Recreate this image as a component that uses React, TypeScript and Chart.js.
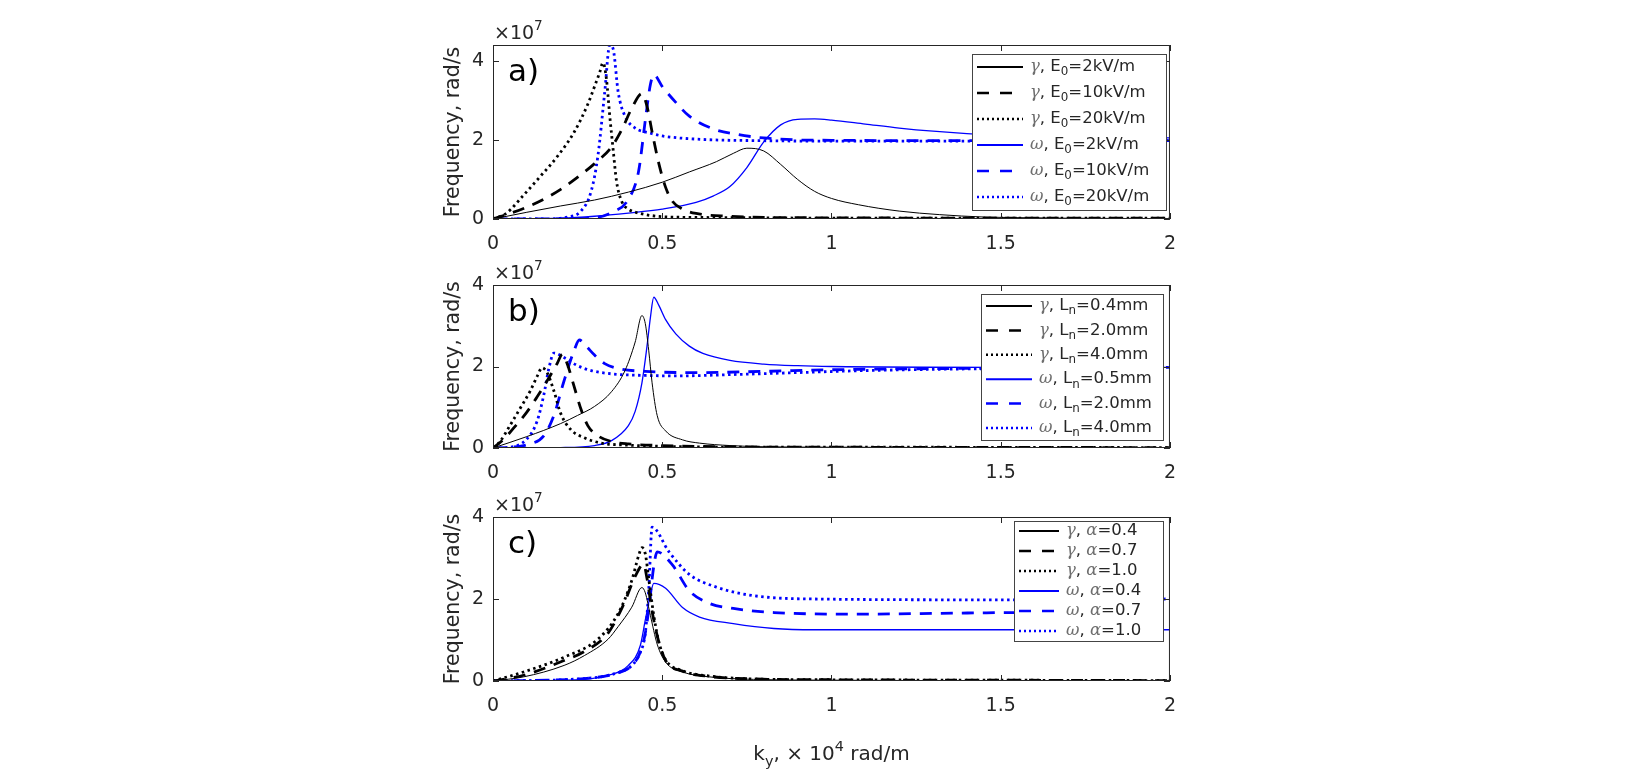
import { useEffect, useRef } from "react";
import { Chart, registerables } from "chart.js";

Chart.register(...registerables);

const SANS = '"DejaVu Sans", sans-serif';
const SERIF = '"DejaVu Serif", serif';
const INK = "#262626";

// axis ticks: k_y in 1e4 rad/m, frequency in 1e7 rad/s
const xTickValues = [0, 0.5, 1, 1.5, 2];
const yTickValues = [0, 2, 4];

// ---- a) field strength E0 ----
const labelsA = ["γ, E_0=2kV/m", "γ, E_0=10kV/m", "γ, E_0=20kV/m", "ω, E_0=2kV/m", "ω, E_0=10kV/m", "ω, E_0=20kV/m"];
const kGammaA2 = [0, 0.1, 0.2, 0.3, 0.4, 0.5, 0.58, 0.66, 0.71, 0.75, 0.8, 0.85, 0.9, 0.95, 1.0, 1.08, 1.2, 1.32, 1.45, 1.6, 1.7, 2.0];
const fGammaA2 = [0, 0.17, 0.33, 0.48, 0.68, 0.93, 1.19, 1.45, 1.66, 1.79, 1.72, 1.38, 1.0, 0.7, 0.52, 0.36, 0.2, 0.11, 0.05, 0.03, 0.02, 0.01];
const kGammaA10 = [0, 0.05, 0.1, 0.15, 0.2, 0.26, 0.3, 0.35, 0.38, 0.41, 0.44, 0.455, 0.47, 0.49, 0.51, 0.53, 0.56, 0.6, 0.7, 0.8, 1.0, 1.5, 2.0];
const fGammaA10 = [0, 0.14, 0.3, 0.5, 0.75, 1.12, 1.4, 1.82, 2.25, 2.8, 3.17, 2.85, 2.2, 1.4, 0.8, 0.45, 0.25, 0.14, 0.07, 0.04, 0.03, 0.02, 0.02];
const kGammaA20 = [0, 0.04, 0.09, 0.14, 0.19, 0.24, 0.28, 0.3, 0.315, 0.325, 0.335, 0.345, 0.355, 0.365, 0.38, 0.4, 0.43, 0.5, 0.6, 0.8, 1.0, 1.5, 2.0];
const fGammaA20 = [0, 0.15, 0.6, 1.08, 1.58, 2.2, 2.9, 3.35, 3.7, 3.95, 3.55, 2.6, 1.75, 0.95, 0.45, 0.25, 0.15, 0.06, 0.04, 0.03, 0.02, 0.02, 0.02];
const kOmegaA2 = [0, 0.2, 0.3, 0.4, 0.5, 0.6, 0.65, 0.7, 0.75, 0.8, 0.85, 0.9, 0.95, 1.0, 1.1, 1.2, 1.3, 1.4, 1.5, 1.7, 2.0];
const fOmegaA2 = [0, 0.02, 0.07, 0.15, 0.25, 0.42, 0.58, 0.82, 1.3, 1.95, 2.38, 2.52, 2.53, 2.5, 2.4, 2.3, 2.22, 2.16, 2.12, 2.08, 2.05];
const kOmegaA10 = [0, 0.2, 0.3, 0.35, 0.4, 0.43, 0.45, 0.465, 0.475, 0.5, 0.54, 0.58, 0.65, 0.72, 0.8, 0.9, 1.0, 1.5, 2.0];
const fOmegaA10 = [0, 0.0, 0.03, 0.16, 0.5, 1.2, 2.5, 3.4, 3.65, 3.35, 2.95, 2.6, 2.28, 2.14, 2.05, 2.0, 1.99, 1.98, 1.98];
const kOmegaA20 = [0, 0.15, 0.22, 0.26, 0.29, 0.31, 0.33, 0.345, 0.355, 0.37, 0.39, 0.42, 0.46, 0.5, 0.6, 0.8, 1.0, 1.5, 2.0];
const fOmegaA20 = [0, 0.0, 0.05, 0.2, 0.7, 1.6, 3.2, 4.4, 4.3, 3.2, 2.6, 2.3, 2.18, 2.1, 2.02, 1.98, 1.97, 1.97, 1.98];

// ---- b) density scale length Ln ----
const labelsB = ["γ, L_n=0.4mm", "γ, L_n=2.0mm", "γ, L_n=4.0mm", "ω, L_n=0.5mm", "ω, L_n=2.0mm", "ω, L_n=4.0mm"];
const kGammaB04 = [0, 0.1, 0.2, 0.25, 0.3, 0.35, 0.39, 0.42, 0.44, 0.45, 0.46, 0.47, 0.485, 0.51, 0.56, 0.61, 0.7, 0.8, 1.0, 1.5, 2.0];
const fGammaB04 = [0, 0.28, 0.6, 0.8, 1.02, 1.38, 1.9, 2.6, 3.25, 3.05, 2.4, 1.6, 0.8, 0.42, 0.2, 0.12, 0.06, 0.03, 0.02, 0.01, 0.01];
const kGammaB20 = [0, 0.03, 0.06, 0.1, 0.13, 0.16, 0.19, 0.205, 0.22, 0.24, 0.26, 0.28, 0.31, 0.35, 0.4, 0.5, 0.7, 1.0, 2.0];
const fGammaB20 = [0, 0.2, 0.48, 0.88, 1.25, 1.65, 2.08, 2.3, 2.05, 1.5, 0.95, 0.55, 0.3, 0.16, 0.1, 0.06, 0.03, 0.02, 0.01];
const kGammaB40 = [0, 0.02, 0.05, 0.08, 0.11, 0.13, 0.145, 0.16, 0.18, 0.2, 0.23, 0.27, 0.32, 0.4, 0.5, 0.7, 1.0, 2.0];
const fGammaB40 = [0, 0.15, 0.55, 0.97, 1.4, 1.75, 1.97, 1.85, 1.4, 0.85, 0.45, 0.25, 0.12, 0.07, 0.04, 0.02, 0.02, 0.01];
const kOmegaB05 = [0, 0.2, 0.3, 0.35, 0.4, 0.42, 0.44, 0.455, 0.465, 0.475, 0.49, 0.51, 0.54, 0.58, 0.62, 0.7, 0.8, 0.9, 1.0, 1.5, 2.0];
const fOmegaB05 = [0, 0.01, 0.06, 0.18, 0.55, 0.9, 1.6, 2.5, 3.2, 3.7, 3.5, 3.15, 2.8, 2.5, 2.32, 2.15, 2.06, 2.02, 2.0, 1.98, 1.98];
const kOmegaB20 = [0, 0.05, 0.1, 0.15, 0.18, 0.21, 0.24, 0.255, 0.275, 0.3, 0.33, 0.37, 0.45, 0.6, 0.8, 1.0, 1.5, 2.0];
const fOmegaB20 = [0, 0.02, 0.08, 0.3, 0.8, 1.65, 2.4, 2.65, 2.5, 2.28, 2.07, 1.95, 1.88, 1.85, 1.88, 1.92, 1.96, 1.98];
const kOmegaB40 = [0, 0.05, 0.1, 0.13, 0.15, 0.165, 0.18, 0.21, 0.25, 0.29, 0.35, 0.45, 0.55, 0.7, 0.9, 1.1, 1.5, 2.0];
const fOmegaB40 = [0, 0.02, 0.22, 0.65, 1.3, 1.95, 2.33, 2.22, 2.02, 1.9, 1.82, 1.78, 1.77, 1.8, 1.85, 1.9, 1.95, 1.98];

// ---- c) parameter alpha ----
const labelsC = ["γ, α=0.4", "γ, α=0.7", "γ, α=1.0", "ω, α=0.4", "ω, α=0.7", "ω, α=1.0"];
const kGammaC04 = [0, 0.09, 0.21, 0.27, 0.34, 0.37, 0.41, 0.44, 0.45, 0.465, 0.485, 0.51, 0.56, 0.64, 0.77, 1.0, 1.5, 2.0];
const fGammaC04 = [0, 0.1, 0.38, 0.62, 1.02, 1.33, 1.8, 2.28, 2.15, 1.6, 0.9, 0.46, 0.22, 0.1, 0.04, 0.02, 0.01, 0.01];
const kGammaC07 = [0, 0.09, 0.21, 0.27, 0.34, 0.385, 0.42, 0.445, 0.455, 0.47, 0.49, 0.51, 0.56, 0.64, 0.77, 1.0, 1.5, 2.0];
const fGammaC07 = [0, 0.14, 0.5, 0.72, 1.17, 1.85, 2.55, 2.85, 2.5, 1.7, 0.95, 0.5, 0.24, 0.11, 0.05, 0.03, 0.02, 0.01];
const kGammaC10 = [0, 0.09, 0.21, 0.31, 0.37, 0.41, 0.43, 0.44, 0.45, 0.46, 0.475, 0.49, 0.51, 0.56, 0.64, 0.77, 1.0, 1.5, 2.0];
const fGammaC10 = [0, 0.22, 0.58, 1.02, 1.65, 2.45, 3.05, 3.25, 3.1, 2.5, 1.6, 0.95, 0.52, 0.25, 0.12, 0.05, 0.03, 0.02, 0.01];
const kOmegaC04 = [0, 0.21, 0.34, 0.4, 0.435, 0.45, 0.465, 0.475, 0.51, 0.56, 0.61, 0.71, 0.83, 0.95, 1.5, 2.0];
const fOmegaC04 = [0, 0.02, 0.14, 0.38, 0.86, 1.49, 2.1, 2.38, 2.26, 1.79, 1.56, 1.4, 1.28, 1.25, 1.25, 1.25];
const kOmegaC07 = [0, 0.27, 0.36, 0.41, 0.435, 0.45, 0.46, 0.475, 0.485, 0.53, 0.58, 0.64, 0.71, 0.83, 1.08, 1.32, 1.57, 2.0];
const fOmegaC07 = [0, 0.06, 0.18, 0.38, 0.7, 1.17, 1.73, 2.8, 3.15, 2.83, 2.2, 1.89, 1.77, 1.67, 1.63, 1.65, 1.67, 1.67];
const kOmegaC10 = [0, 0.27, 0.36, 0.41, 0.435, 0.45, 0.46, 0.47, 0.52, 0.58, 0.66, 0.77, 0.95, 1.5, 2.0];
const fOmegaC10 = [0, 0.06, 0.18, 0.38, 0.7, 1.17, 2.2, 3.75, 3.15, 2.6, 2.29, 2.08, 2.0, 1.98, 2.0];

// line styles in legend order: γ solid/dash/dot (black), ω solid/dash/dot (blue)
const STYLES = [
  { color: "#000000", width: 1, dash: [] as number[], legendWidth: 2, legendDash: [] as number[] },
  { color: "#000000", width: 2.8, dash: [12, 9], legendWidth: 2.5, legendDash: [12, 11] },
  { color: "#000000", width: 2.8, dash: [2.5, 3.5], legendWidth: 2.5, legendDash: [2, 3] },
  { color: "#0000ff", width: 1.3, dash: [] as number[], legendWidth: 2, legendDash: [] as number[] },
  { color: "#0000ff", width: 2.8, dash: [12, 9], legendWidth: 2.5, legendDash: [12, 11] },
  { color: "#0000ff", width: 2.8, dash: [2.5, 3.5], legendWidth: 2.5, legendDash: [2, 3] },
];

const PLOT_LEFT = 493;
const PLOT_RIGHT = 1170;
const CANVAS_LEFT = 438;
const CANVAS_W = PLOT_RIGHT + 20 - CANVAS_LEFT;

type PanelCfg = {
  tag: string;
  top: number;
  bottom: number;
  yMax: number;
  labels: string[];
  ks: number[][];
  fs: number[][];
  legendLeft: number;
  legendRight: number;
  legendTop: number;
  legendHeight: number;
  rowFirst: number;
  rowPitch: number;
  sampleLen: number;
  xTitle: boolean;
};

// draws text with _x subscripts, ^x superscripts and italic greek letters
function drawRich(ctx: CanvasRenderingContext2D, text: string, x: number, y: number, size: number, draw = true) {
  let cx = x;
  let i = 0;
  while (i < text.length) {
    let ch = text[i];
    let mode = "normal";
    if ((ch === "_" || ch === "^") && i + 1 < text.length) {
      mode = ch === "_" ? "sub" : "sup";
      ch = text[i + 1];
      i += 2;
    } else {
      i += 1;
    }
    const greek = /[\u03b1-\u03c9]/.test(ch);
    const sz = mode === "normal" ? size : size * 0.72;
    ctx.font = `${greek ? "italic " : ""}${sz}px ${greek ? SERIF : SANS}`;
    ctx.fillStyle = greek ? "#6e6e6e" : INK;
    const dy = mode === "sub" ? size * 0.32 : mode === "sup" ? -size * 0.45 : 0;
    if (draw) ctx.fillText(ch, cx, y + dy);
    cx += ctx.measureText(ch).width;
  }
  return cx - x;
}

function Panel({ cfg }: { cfg: PanelCfg }) {
  const chartRef = useRef<HTMLCanvasElement>(null);
  const canvasTop = cfg.top - 40;
  const canvasHeight = cfg.xTitle ? 773 - canvasTop : cfg.bottom + 40 - canvasTop;
  const bottomSpace = canvasHeight - (cfg.bottom - canvasTop);

  useEffect(() => {
    if (!chartRef.current) return;

    const overlay = {
      id: "overlay",
      afterDatasetsDraw(chart: Chart) {
        const { ctx, chartArea: ca, scales } = chart;
        ctx.save();
        ctx.strokeStyle = INK;
        ctx.lineWidth = 1;
        ctx.setLineDash([]);
        ctx.strokeRect(ca.left + 0.5, ca.top + 0.5, ca.right - ca.left - 1, ca.bottom - ca.top - 1);
        ctx.beginPath();
        xTickValues.forEach((v) => {
          const px = Math.round(scales.x.getPixelForValue(v)) + 0.5;
          ctx.moveTo(px, ca.bottom);
          ctx.lineTo(px, ca.bottom - 6);
          ctx.moveTo(px, ca.top);
          ctx.lineTo(px, ca.top + 6);
        });
        yTickValues.forEach((v) => {
          const py = Math.round(scales.y.getPixelForValue(v)) + 0.5;
          ctx.moveTo(ca.left, py);
          ctx.lineTo(ca.left + 6, py);
          ctx.moveTo(ca.right, py);
          ctx.lineTo(ca.right - 6, py);
        });
        ctx.stroke();
        ctx.restore();
      },
      afterDraw(chart: Chart) {
        const { ctx, chartArea: ca } = chart;
        const ox = CANVAS_LEFT;
        const oy = canvasTop;
        ctx.save();
        ctx.textBaseline = "alphabetic";
        ctx.textAlign = "left";
        // exponent label
        drawRich(ctx, "×10^7", ca.left + 1, ca.top - 6, 19);
        // panel tag
        ctx.font = `31px ${SANS}`;
        ctx.fillStyle = "#000";
        ctx.textBaseline = "middle";
        ctx.fillText(cfg.tag, ca.left + 15, ca.top + 28);

        // legend box
        const boxLeft = cfg.legendLeft - ox;
        const boxW = cfg.legendRight - cfg.legendLeft;
        const boxTop = cfg.legendTop - oy;
        ctx.fillStyle = "#ffffff";
        ctx.fillRect(boxLeft, boxTop, boxW, cfg.legendHeight);
        ctx.strokeStyle = "#444";
        ctx.lineWidth = 1;
        ctx.strokeRect(boxLeft + 0.5, boxTop + 0.5, boxW, cfg.legendHeight);
        cfg.labels.forEach((label, i) => {
          const y = boxTop + cfg.rowFirst + i * cfg.rowPitch;
          const st = STYLES[i];
          ctx.strokeStyle = st.color;
          ctx.lineWidth = st.legendWidth;
          ctx.setLineDash(st.legendDash);
          ctx.beginPath();
          ctx.moveTo(boxLeft + 5, y);
          ctx.lineTo(boxLeft + 5 + cfg.sampleLen, y);
          ctx.stroke();
          ctx.setLineDash([]);
          ctx.textBaseline = "middle";
          drawRich(ctx, label, boxLeft + cfg.sampleLen + 12, y, 16.5);
        });

        // x axis title on the bottom panel
        if (cfg.xTitle) {
          const text = "k_y, × 10^4 rad/m";
          ctx.textBaseline = "alphabetic";
          const w = drawRich(ctx, text, 0, 0, 20, false);
          drawRich(ctx, text, (ca.left + ca.right) / 2 - w / 2, ca.bottom + 79, 20);
        }
        ctx.restore();
      },
    };

    const chart = new Chart(chartRef.current, {
      type: "line",
      data: {
        datasets: cfg.labels.map((label, i) => ({
          label,
          data: cfg.ks[i].map((k, j) => ({ x: k, y: cfg.fs[i][j] })),
          borderColor: STYLES[i].color,
          borderWidth: STYLES[i].width,
          borderDash: STYLES[i].dash,
          pointRadius: 0,
          fill: false,
          cubicInterpolationMode: "monotone" as const,
        })),
      },
      options: {
        responsive: false,
        animation: false,
        events: [],
        layout: { padding: { top: 40, right: 20, left: 0, bottom: 0 } },
        plugins: { legend: { display: false }, tooltip: { enabled: false } },
        scales: {
          x: {
            type: "linear",
            min: 0,
            max: 2,
            grid: { display: false, drawTicks: false },
            border: { display: false },
            afterBuildTicks: (s: any) => {
              s.ticks = xTickValues.map((v) => ({ value: v }));
            },
            afterFit: (s: any) => {
              s.height = bottomSpace;
            },
            ticks: {
              autoSkip: false,
              maxRotation: 0,
              padding: 14,
              color: INK,
              font: { family: SANS, size: 19 },
              callback: (v: any) => String(v),
            },
          },
          y: {
            type: "linear",
            min: 0,
            max: cfg.yMax,
            grid: { display: false, drawTicks: false },
            border: { display: false },
            afterBuildTicks: (s: any) => {
              s.ticks = yTickValues.map((v) => ({ value: v }));
            },
            afterFit: (s: any) => {
              s.width = PLOT_LEFT - CANVAS_LEFT;
            },
            title: {
              display: true,
              text: "Frequency, rad/s",
              color: INK,
              font: { family: SANS, size: 20.5 },
              padding: { top: 3, bottom: 0 },
            },
            ticks: {
              padding: 9,
              color: INK,
              font: { family: SANS, size: 19 },
              callback: (v: any) => String(v),
            },
          },
        },
      },
      plugins: [overlay],
    });

    return () => {
      chart.destroy();
    };
  }, [cfg, bottomSpace, canvasTop]);

  return (
    <canvas
      ref={chartRef}
      width={CANVAS_W}
      height={canvasHeight}
      style={{ position: "absolute", left: CANVAS_LEFT, top: canvasTop, width: CANVAS_W, height: canvasHeight }}
    />
  );
}

const panels: PanelCfg[] = [
  {
    tag: "a)",
    top: 45,
    bottom: 219,
    yMax: 4.4,
    labels: labelsA,
    ks: [kGammaA2, kGammaA10, kGammaA20, kOmegaA2, kOmegaA10, kOmegaA20],
    fs: [fGammaA2, fGammaA10, fGammaA20, fOmegaA2, fOmegaA10, fOmegaA20],
    legendLeft: 972,
    legendRight: 1166,
    legendTop: 54,
    legendHeight: 156,
    rowFirst: 13,
    rowPitch: 26,
    sampleLen: 46,
    xTitle: false,
  },
  {
    tag: "b)",
    top: 285,
    bottom: 448,
    yMax: 4,
    labels: labelsB,
    ks: [kGammaB04, kGammaB20, kGammaB40, kOmegaB05, kOmegaB20, kOmegaB40],
    fs: [fGammaB04, fGammaB20, fGammaB40, fOmegaB05, fOmegaB20, fOmegaB40],
    legendLeft: 981,
    legendRight: 1163,
    legendTop: 294,
    legendHeight: 146,
    rowFirst: 12,
    rowPitch: 24.4,
    sampleLen: 46,
    xTitle: false,
  },
  {
    tag: "c)",
    top: 517,
    bottom: 681,
    yMax: 4,
    labels: labelsC,
    ks: [kGammaC04, kGammaC07, kGammaC10, kOmegaC04, kOmegaC07, kOmegaC10],
    fs: [fGammaC04, fGammaC07, fGammaC10, fOmegaC04, fOmegaC07, fOmegaC10],
    legendLeft: 1014,
    legendRight: 1163,
    legendTop: 521,
    legendHeight: 120,
    rowFirst: 10,
    rowPitch: 20,
    sampleLen: 40,
    xTitle: true,
  },
];

export default function App() {
  return (
    <div style={{ position: "absolute", left: 0, top: 0, width: 1644, height: 773, background: "#fff", overflow: "hidden" }}>
      {panels.map((p) => (
        <Panel key={p.tag} cfg={p} />
      ))}
    </div>
  );
}
